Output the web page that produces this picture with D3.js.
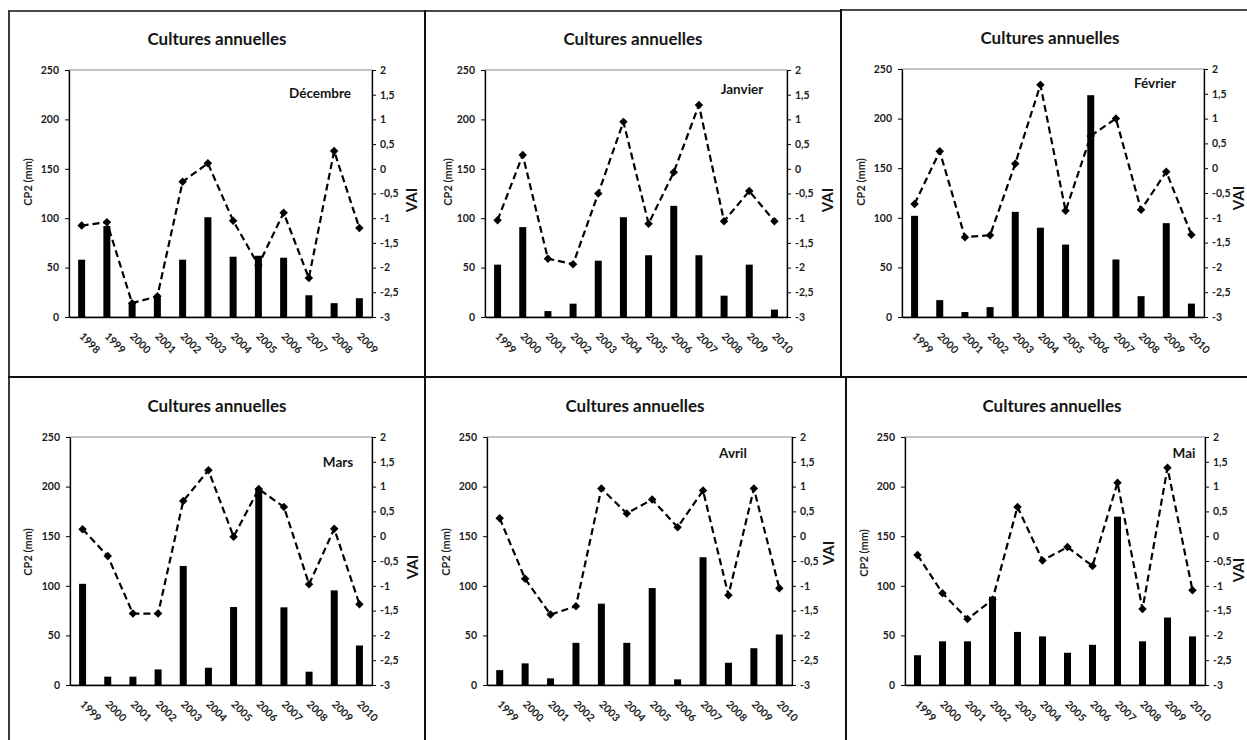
<!DOCTYPE html>
<html>
<head>
<meta charset="utf-8">
<script src="https://cdn.jsdelivr.net/npm/d3@7"></script>
<style>
  html, body { margin: 0; padding: 0; background: #ffffff; }
  svg { display: block; }
  text { font-family: Lato, "Open Sans", "Liberation Sans", sans-serif; fill: #151515; }
</style>
</head>
<body>
<svg id="chart" width="1247" height="740"></svg>
<script>
// ---------------- DATA ----------------
const yearsDec = ["1998","1999","2000","2001","2002","2003","2004","2005","2006","2007","2008","2009"];
const yearsStd = ["1999","2000","2001","2002","2003","2004","2005","2006","2007","2008","2009","2010"];
const months = ["Décembre", "Janvier", "Février", "Mars", "Avril", "Mai"];
const chartTitle = "Cultures annuelles";
const leftAxisLabel = "CP2 (mm)";
const rightAxisLabel = "VAI";

const cp2Dec = [58, 92, 14, 20, 58, 101, 61, 62, 60, 22, 14, 19];
const vaiDec = [-1.15, -1.08, -2.72, -2.58, -0.26, 0.11, -1.05, -1.95, -0.89, -2.21, 0.36, -1.2];

const cp2Jan = [53, 91, 6, 13.5, 57, 101, 62.5, 112.5, 62.5, 21.6, 53, 7.5];
const vaiJan = [-1.04, 0.28, -1.82, -1.93, -0.5, 0.95, -1.11, -0.07, 1.29, -1.06, -0.45, -1.06];

const cp2Feb = [102, 17, 5, 10, 106, 90, 73, 223.6, 58, 21, 94.6, 13.5];
const vaiFeb = [-0.72, 0.34, -1.39, -1.35, 0.09, 1.68, -0.86, 0.65, 1.0, -0.84, -0.07, -1.34];

const cp2Mar = [102, 8.4, 8.4, 15.7, 120, 17.4, 78.6, 198, 78.3, 13.4, 95.4, 39.8];
const vaiMar = [0.14, -0.40, -1.56, -1.56, 0.71, 1.33, -0.01, 0.95, 0.59, -0.97, 0.15, -1.37];

const cp2Apr = [15, 21.8, 6.7, 42.5, 82, 42.5, 97.7, 5.7, 128.8, 22.4, 37.1, 50.9];
const vaiApr = [0.36, -0.86, -1.58, -1.41, 0.96, 0.46, 0.74, 0.18, 0.92, -1.19, 0.96, -1.05];

const cp2May = [30, 44, 44, 89, 53.5, 49, 32.5, 40.5, 169.7, 44, 68, 49];
const vaiMay = [-0.38, -1.15, -1.67, -1.28, 0.59, -0.49, -0.22, -0.6, 1.08, -1.47, 1.38, -1.09];

const cp2Ticks = [0, 50, 100, 150, 200, 250];
const vaiTicks = [-3, -2.5, -2, -1.5, -1, -0.5, 0, 0.5, 1, 1.5, 2];

// ---------------- LAYOUT (positions only) ----------------
const layout = [
  { px0: 69,  px1: 372,  py0: 70,  py1: 317, tx: 217,  ty: 38,  mx: 320,  my: 93,  lx: 27,  ly: 182, rx: 411,  ry: 200 },
  { px0: 485, px1: 787,  py0: 70,  py1: 317, tx: 633,  ty: 38,  mx: 742,  my: 89,  lx: 447, ly: 182, rx: 827,  ry: 200 },
  { px0: 902, px1: 1204, py0: 69,  py1: 317, tx: 1050, ty: 37,  mx: 1155, my: 83,  lx: 860, ly: 182, rx: 1238, ry: 198 },
  { px0: 70,  px1: 372,  py0: 437, py1: 685, tx: 217,  ty: 405, mx: 338,  my: 462, lx: 27,  ly: 552, rx: 412,  ry: 567 },
  { px0: 487, px1: 792,  py0: 437, py1: 685, tx: 635,  ty: 405, mx: 733,  my: 453, lx: 445, ly: 552, rx: 828,  ry: 553 },
  { px0: 905, px1: 1205, py0: 437, py1: 685, tx: 1052, ty: 405, mx: 1184, my: 453, lx: 863, ly: 553, rx: 1238, ry: 570 }
];

const panelData = [
  { years: yearsDec, cp2: cp2Dec, vai: vaiDec, month: months[0] },
  { years: yearsStd, cp2: cp2Jan, vai: vaiJan, month: months[1] },
  { years: yearsStd, cp2: cp2Feb, vai: vaiFeb, month: months[2] },
  { years: yearsStd, cp2: cp2Mar, vai: vaiMar, month: months[3] },
  { years: yearsStd, cp2: cp2Apr, vai: vaiApr, month: months[4] },
  { years: yearsStd, cp2: cp2May, vai: vaiMay, month: months[5] }
];

const svg = d3.select("#chart");
svg.append("rect").attr("width", 1247).attr("height", 740).attr("fill", "#fff");

const fmtVai = d => String(d).replace(".", ",");

panelData.forEach((pd, i) => {
  const L = layout[i];
  const g = svg.append("g");

  const x = d3.scaleBand().domain(pd.years).range([L.px0, L.px1]).paddingInner(0).paddingOuter(0);
  const yL = d3.scaleLinear().domain([0, 250]).range([L.py1, L.py0]);
  const yR = d3.scaleLinear().domain([-3, 2]).range([L.py1, L.py0]);
  const cx = d => x(d) + x.bandwidth() / 2;

  // plot area border (thin grey)
  g.append("rect")
    .attr("x", L.px0).attr("y", L.py0)
    .attr("width", L.px1 - L.px0).attr("height", L.py1 - L.py0)
    .attr("fill", "none").attr("stroke", "#8a8a8a").attr("stroke-width", 1);

  // bars
  const bw = 7;
  g.selectAll("rect.bar").data(pd.years).join("rect")
    .attr("class", "bar")
    .attr("x", d => cx(d) - bw / 2)
    .attr("width", bw)
    .attr("y", (d, j) => yL(pd.cp2[j]))
    .attr("height", (d, j) => yL(0) - yL(pd.cp2[j]))
    .attr("fill", "#000");

  // dashed line
  const line = d3.line().x((d, j) => cx(pd.years[j])).y(d => yR(d));
  g.append("path").datum(pd.vai)
    .attr("d", line)
    .attr("fill", "none").attr("stroke", "#000")
    .attr("stroke-width", 2.2).attr("stroke-dasharray", "7,4");

  // diamond markers
  const sym = d3.symbol().type(d3.symbolSquare).size(36);
  g.selectAll("path.mk").data(pd.vai).join("path")
    .attr("class", "mk")
    .attr("d", sym)
    .attr("transform", (d, j) => `translate(${cx(pd.years[j])},${yR(d)}) rotate(45)`)
    .attr("fill", "#000");

  // left axis
  const axL = g.append("g").attr("transform", `translate(${L.px0},0)`)
    .call(d3.axisLeft(yL).tickValues(cp2Ticks).tickSize(4).tickSizeOuter(0).tickPadding(6));
  // right axis
  const axR = g.append("g").attr("transform", `translate(${L.px1},0)`)
    .call(d3.axisRight(yR).tickValues(vaiTicks).tickFormat(fmtVai).tickSize(4).tickSizeOuter(0).tickPadding(4));
  // bottom axis
  const axB = g.append("g").attr("transform", `translate(0,${L.py1})`)
    .call(d3.axisBottom(x).tickSize(0).tickSizeOuter(0));
  axB.selectAll("text")
    .attr("text-anchor", "start")
    .attr("dy", null).attr("y", null)
    .attr("transform", "translate(-3,20) rotate(45)");

  [axL, axR, axB].forEach(a => {
    a.select(".domain").attr("stroke", "#000").attr("stroke-width", 1.3);
    a.selectAll(".tick line").attr("stroke", "#000").attr("stroke-width", 1);
    a.selectAll("text").style("font-family", "Lato, 'Open Sans', sans-serif")
      .style("font-size", "10.5px").style("font-weight", "bold").style("fill", "#1c1c1c");
  });

  // title
  g.append("text").attr("x", L.tx).attr("y", L.ty).attr("text-anchor", "middle")
    .attr("dominant-baseline", "central")
    .style("font-size", "17px").style("font-weight", "bold").text(chartTitle);

  // month label
  g.append("text").attr("x", L.mx).attr("y", L.my).attr("text-anchor", "middle")
    .attr("dominant-baseline", "central")
    .style("font-size", "13.5px").style("font-weight", "bold").text(pd.month);

  // axis titles
  g.append("text").attr("transform", `translate(${L.lx},${L.ly}) rotate(-90)`)
    .attr("text-anchor", "middle").attr("dominant-baseline", "central")
    .style("font-size", "11px").style("font-weight", "bold").style("fill", "#1c1c1c").text(leftAxisLabel);
  g.append("text").attr("transform", `translate(${L.rx},${L.ry}) rotate(-90)`)
    .attr("text-anchor", "middle").attr("dominant-baseline", "central")
    .style("font-size", "15px").style("font-weight", "bold").text(rightAxisLabel);
});

// panel frames
const frames = svg.append("g").attr("stroke-linecap", "square");
const seg = (x1, y1, x2, y2, c, w) => frames.append("line")
  .attr("x1", x1).attr("y1", y1).attr("x2", x2).attr("y2", y2)
  .attr("stroke", c).attr("stroke-width", w);
seg(9, 11, 841, 11, "#4a4a4a", 2);
seg(841, 10, 1247, 10, "#4a4a4a", 2);
seg(9, 11, 9, 740, "#3a3a3a", 2);
seg(425, 11, 425, 740, "#111", 2);
seg(841, 10, 841, 377, "#111", 2);
seg(846, 377, 846, 740, "#111", 2);
seg(9, 377, 1247, 377, "#111", 2);
</script>
</body>
</html>
